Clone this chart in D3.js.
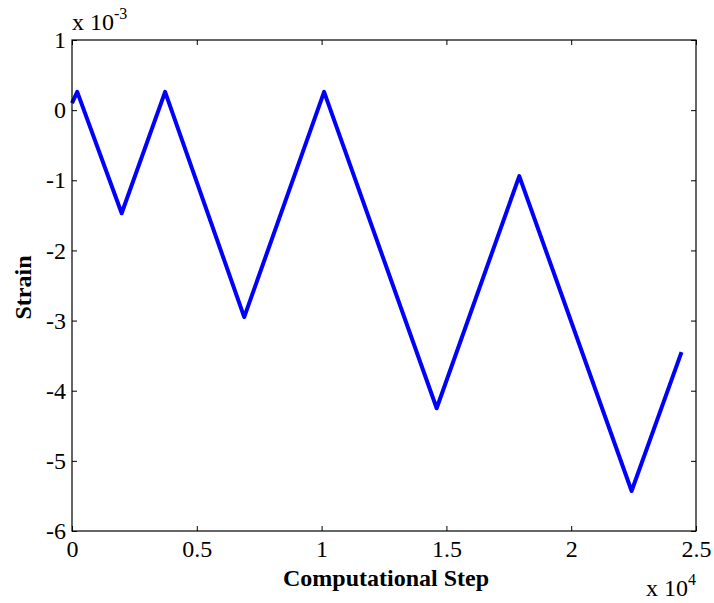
<!DOCTYPE html>
<html>
<head>
<meta charset="utf-8">
<script src="https://cdn.jsdelivr.net/npm/d3@7"></script>
<style>
  body { margin: 0; background: #fff; }
  text { font-family: "Liberation Serif", "Times New Roman", serif; }
</style>
</head>
<body>
<svg id="svg" width="714" height="603"></svg>
<script>
// turning points of the strain history (step, strain)
var steps = [0, 210, 1990, 3730, 6900, 10100, 14610, 17920, 22420, 24420];
var strain = [0.0001, 0.00026, -0.00147, 0.00026, -0.00295, 0.00026, -0.00425, -0.00094, -0.00543, -0.00345];
var xTicks = [0, 5000, 10000, 15000, 20000, 25000];
var yTicks = [-0.006, -0.005, -0.004, -0.003, -0.002, -0.001, 0, 0.001];

var pL = 72, pR = 696, pT = 40, pB = 531;
var svg = d3.select('#svg');

var scX = d3.scaleLinear().domain([0, 25000]).range([pL, pR]);
var scY = d3.scaleLinear().domain([-0.006, 0.001]).range([pB, pT]);

var data = steps.map((s, i) => ({x: s, y: strain[i]}));

// line
svg.append('path')
    .datum(data)
    .attr('d', d3.line().x(d => scX(d.x)).y(d => scY(d.y)))
    .attr('fill', 'none')
    .attr('stroke', '#0000ff')
    .attr('stroke-width', 4)
    .attr('stroke-linejoin', 'round');

// box
svg.append('rect')
    .attr('x', pL).attr('y', pT)
    .attr('width', pR - pL).attr('height', pB - pT)
    .attr('fill', 'none').attr('stroke', '#000').attr('stroke-width', 1.2);

// axes with inward ticks on all sides
function style(g) {
    g.select('.domain').remove();
    g.selectAll('text').attr('font-family', 'Liberation Serif').attr('font-size', 24).attr('fill', '#000');
    g.selectAll('line').attr('stroke', '#000');
}
svg.append('g').attr('transform', 'translate(0,' + pB + ')')
    .call(d3.axisBottom(scX).tickValues(xTicks).tickSizeInner(-5).tickPadding(9)
        .tickFormat(d => String(d / 10000)))
    .call(style);
svg.append('g').attr('transform', 'translate(0,' + pT + ')')
    .call(d3.axisTop(scX).tickValues(xTicks).tickSizeInner(-5).tickFormat(''))
    .call(style);
svg.append('g').attr('transform', 'translate(' + pL + ',0)')
    .call(d3.axisLeft(scY).tickValues(yTicks).tickSizeInner(-5).tickPadding(6)
        .tickFormat(d => String(Math.round(d * 1000))))
    .call(style);
svg.append('g').attr('transform', 'translate(' + pR + ',0)')
    .call(d3.axisRight(scY).tickValues(yTicks).tickSizeInner(-5).tickFormat(''))
    .call(style);

// exponent labels
var e1 = svg.append('text').attr('x', 72).attr('y', 30).attr('font-size', 24);
e1.append('tspan').text('x 10');
e1.append('tspan').attr('dy', -11).attr('font-size', 16).text('-3');
var e2 = svg.append('text').attr('x', 646).attr('y', 596).attr('font-size', 24);
e2.append('tspan').text('x 10');
e2.append('tspan').attr('dy', -11).attr('font-size', 16).text('4');

// axis titles
svg.append('text').attr('x', (pL + pR) / 2 + 2).attr('y', 586)
    .attr('text-anchor', 'middle').attr('font-weight', 'bold').attr('font-size', 24)
    .text('Computational Step');
svg.append('text').attr('transform', 'translate(31,' + ((pT + pB) / 2 + 2) + ') rotate(-90)')
    .attr('text-anchor', 'middle').attr('font-weight', 'bold').attr('font-size', 24)
    .text('Strain');
</script>
</body>
</html>
